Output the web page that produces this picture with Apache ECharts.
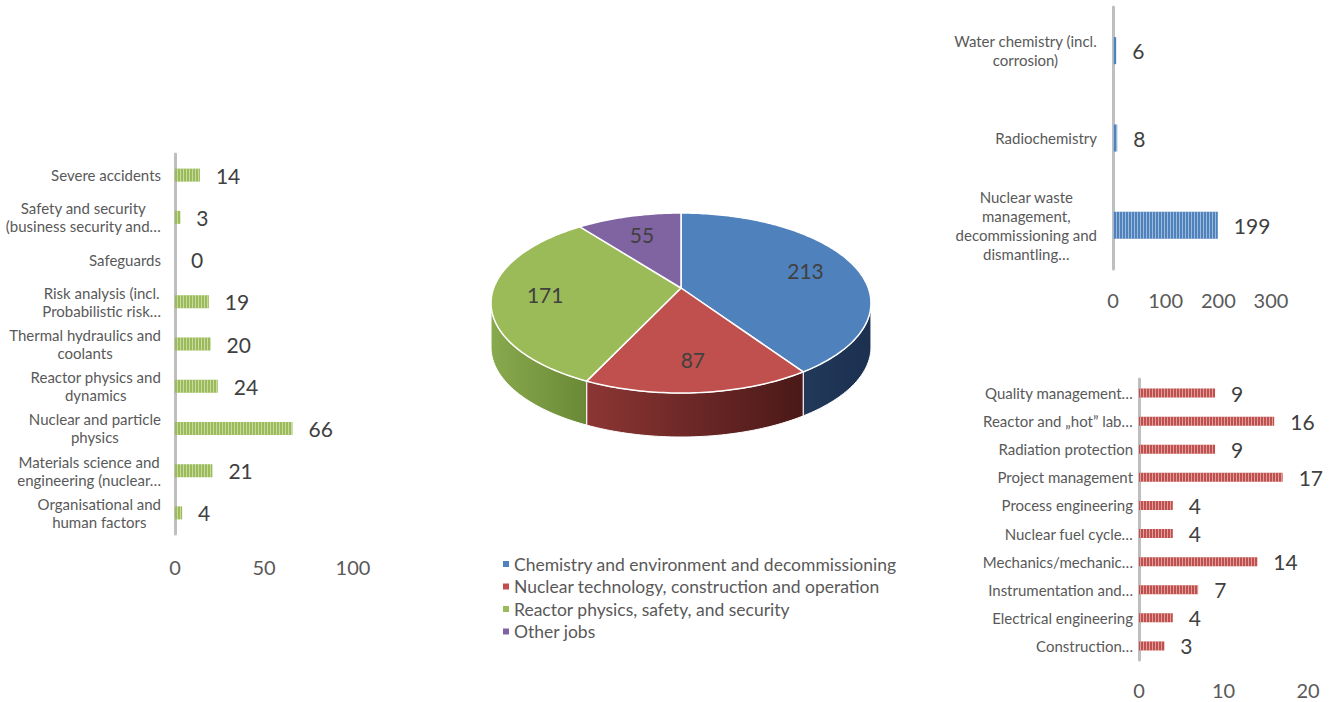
<!DOCTYPE html>
<html>
<head>
<meta charset="utf-8">
<script src="https://cdn.jsdelivr.net/npm/echarts@6/dist/echarts.min.js"></script>
<style>
  html, body { margin: 0; padding: 0; background: #ffffff; }
  #chart { width: 1336px; height: 702px; }
</style>
</head>
<body>
<div id="chart"></div>
<script>
// Reactor physics, safety and security — job counts by field
const physicsCategories = [
  'Severe accidents',
  'Safety and security\n(business security and…',
  'Safeguards',
  'Risk analysis (incl.\nProbabilistic risk…',
  'Thermal hydraulics and\ncoolants',
  'Reactor physics and\ndynamics',
  'Nuclear and particle\nphysics',
  'Materials science and\nengineering (nuclear…',
  'Organisational and\nhuman factors'
];
const physicsValues = [14, 3, 0, 19, 20, 24, 66, 21, 4];
const physicsTicks = [0, 50, 100];

// Chemistry and environment and decommissioning
const chemistryCategories = [
  'Water chemistry (incl.\ncorrosion)',
  'Radiochemistry',
  'Nuclear waste\nmanagement,\ndecommissioning and\ndismantling…'
];
const chemistryValues = [6, 8, 199];
const chemistryTicks = [0, 100, 200, 300];

// Nuclear technology, construction and operation
const technologyCategories = [
  'Quality management…',
  'Reactor and „hot” lab…',
  'Radiation protection',
  'Project management',
  'Process engineering',
  'Nuclear fuel cycle…',
  'Mechanics/mechanic…',
  'Instrumentation and…',
  'Electrical engineering',
  'Construction…'
];
const technologyValues = [9, 16, 9, 17, 4, 4, 14, 7, 4, 3];
const technologyTicks = [0, 10, 20];

// Overall split between the groups
const groupNames = [
  'Chemistry and environment and decommissioning',
  'Nuclear technology, construction and operation',
  'Reactor physics, safety, and security',
  'Other jobs'
];
const groupValues = [213, 87, 171, 55];

// ---- styling ----
const FONT = 'Lato, "Open Sans", sans-serif';
const BLUE = '#4F81BD', RED = '#C0504D', GREEN = '#9BBB59', PURPLE = '#8064A2';
const topColors = [BLUE, RED, GREEN, PURPLE];
const sideColors = [
  ['#22395A', '#1C3050'],
  ['#8C3634', '#4A1918'],
  ['#89A94E', '#6A8936'],
  ['#5E4A7A', '#4A3A62']
];

function stripes() {
  return {
    symbol: 'rect', symbolSize: 1, color: 'rgba(255,255,255,0.45)',
    dashArrayX: [1, 2], dashArrayY: [4, 0], rotation: 0
  };
}

function wrapCentered(rich) {
  return {
    formatter: v => v.split('\n').map(s => '{c|' + s + '}').join('\n'),
    rich: { c: Object.assign({ align: 'center', fontFamily: FONT, color: '#595959' }, rich) }
  };
}

function categoryAxis(gridIndex, data, margin, fontSize, lineHeight) {
  return {
    type: 'category', gridIndex, data, inverse: true,
    axisLine: { show: true, lineStyle: { color: '#BFBFBF', width: 3 } },
    axisTick: { show: false },
    splitLine: { show: false },
    axisLabel: Object.assign({ margin, interval: 0, fontSize, lineHeight, color: '#595959', fontFamily: FONT },
      wrapCentered({ fontSize, lineHeight }))
  };
}

function valueAxis(gridIndex, ticks, margin) {
  return {
    type: 'value', gridIndex,
    min: ticks[0], max: ticks[ticks.length - 1], interval: ticks[1] - ticks[0],
    axisLine: { show: false }, axisTick: { show: false }, splitLine: { show: false },
    axisLabel: { margin, fontSize: 20, color: '#595959', fontFamily: FONT }
  };
}

function barSeries(idx, values, color, width) {
  return {
    type: 'bar', xAxisIndex: idx, yAxisIndex: idx, data: values, barWidth: width,
    itemStyle: { color, decal: stripes() },
    label: { show: true, position: 'right', distance: 16, fontSize: 21, color: '#404040', fontFamily: FONT },
    silent: true
  };
}

// ---- tilted pie with perspective, drawn with custom series ----
// apex = projected centre; k = perspective strength; a/b = horizontal/vertical scale
const pie = { cx: 681, cy: 288, a: 187.3, b: 87.5, k: 0.1667, depth: 44 };
const groupTotal = groupValues.reduce((s, v) => s + v, 0);

function project(u, v, dy) {
  const d = 1 + pie.k * v;
  return [pie.cx + pie.a * u / d, pie.cy - pie.b * v / d + (dy || 0)];
}
function rimPoint(t, dy) { return project(Math.sin(t), Math.cos(t), dy); }
function arcPoints(t0, t1, dy) {
  const n = Math.max(2, Math.ceil((t1 - t0) / (Math.PI / 180)));
  const pts = [];
  for (let j = 0; j <= n; j++) pts.push(rimPoint(t0 + (t1 - t0) * j / n, dy));
  return pts;
}

// visible front wall lies between the two silhouette angles (cos t = -k)
const wallStart = Math.acos(-pie.k);
const wallEnd = Math.PI * 2 - wallStart;

function sliceRenderer(i) {
  return function (params, api) {
    const start = api.value(0), val = api.value(1), total = api.value(2);
    const t0 = start / total * Math.PI * 2;
    const t1 = (start + val) / total * Math.PI * 2;
    const children = [];
    const s0 = Math.max(t0, wallStart), s1 = Math.min(t1, wallEnd);
    if (s1 > s0) {
      const rim = arcPoints(s0, s1, 0);
      const bottom = arcPoints(s0, s1, pie.depth).reverse();
      children.push({
        type: 'polygon',
        shape: { points: rim.concat(bottom) },
        style: {
          fill: new echarts.graphic.LinearGradient(0, 0, 1, 0, [
            { offset: 0, color: sideColors[i][0] },
            { offset: 1, color: sideColors[i][1] }
          ]),
          stroke: '#ffffff', lineWidth: 1
        }
      });
    }
    const top = [[pie.cx, pie.cy]].concat(arcPoints(t0, t1, 0));
    children.push({
      type: 'polygon',
      shape: { points: top },
      style: { fill: topColors[i], stroke: '#ffffff', lineWidth: 1.5 }
    });
    const mid = (t0 + t1) / 2, f = 0.72;
    const p = project(f * Math.sin(mid), f * Math.cos(mid), 0);
    children.push({
      type: 'text', x: p[0], y: p[1],
      style: {
        text: String(val), fill: '#404040', fontSize: 21, fontFamily: FONT,
        align: 'center', verticalAlign: 'middle'
      }
    });
    return { type: 'group', children };
  };
}

let running = 0;
const pieSeries = groupNames.map((name, i) => {
  const start = running;
  running += groupValues[i];
  return {
    type: 'custom', name, coordinateSystem: 'none', silent: true,
    itemStyle: { color: topColors[i] },
    data: [[start, groupValues[i], groupTotal]],
    renderItem: sliceRenderer(i)
  };
});

const chart = echarts.init(document.getElementById('chart'), null, { renderer: 'svg' });
chart.setOption({
  backgroundColor: '#ffffff',
  animation: false,
  textStyle: { fontFamily: FONT },
  grid: [
    { left: 175, top: 154, width: 178, height: 380 },
    { left: 1113, top: 7, width: 158, height: 262 },
    { left: 1139, top: 379, width: 169, height: 281 }
  ],
  xAxis: [
    valueAxis(0, physicsTicks, 23),
    valueAxis(1, chemistryTicks, 21),
    valueAxis(2, technologyTicks, 20)
  ],
  yAxis: [
    categoryAxis(0, physicsCategories, 14, 15, 18),
    categoryAxis(1, chemistryCategories, 16, 15, 19),
    categoryAxis(2, technologyCategories, 6, 15, 18)
  ],
  legend: {
    data: groupNames, orient: 'vertical', left: 498, top: 550,
    icon: 'rect', itemWidth: 6, itemHeight: 6, itemGap: 4.5,
    textStyle: { fontSize: 17.5, lineHeight: 18, color: '#595959', fontFamily: FONT },
    selectedMode: false
  },
  series: [
    barSeries(0, physicsValues, GREEN, 13),
    barSeries(1, chemistryValues, BLUE, 27),
    barSeries(2, technologyValues, RED, 9)
  ].concat(pieSeries)
});
</script>
</body>
</html>
